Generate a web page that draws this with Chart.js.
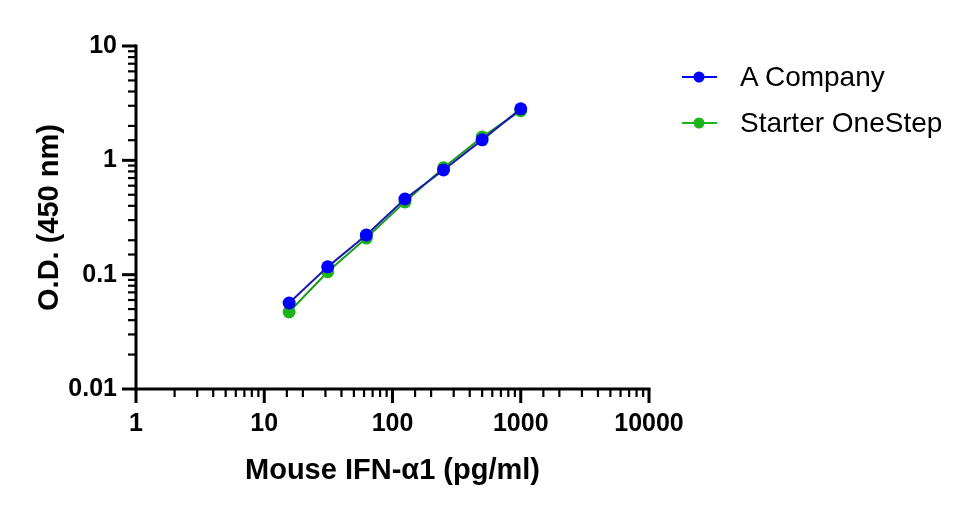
<!DOCTYPE html>
<html>
<head>
<meta charset="utf-8">
<script src="https://cdn.jsdelivr.net/npm/chart.js@4.4.1/dist/chart.umd.min.js"></script>
<style>
  html, body { margin: 0; padding: 0; background: #fff; }
  #wrap { position: relative; width: 969px; height: 507px; }
  #legend { position: absolute; left: 676px; top: 54px; font-family: "Liberation Sans", Arial, sans-serif; font-size: 28px; color: #000; }
  .row { display: flex; align-items: center; height: 46px; }
  .row svg { margin-right: 20px; }
</style>
</head>
<body>
<div id="wrap">
  <canvas id="c" width="969" height="507"></canvas>
  <div id="legend"></div>
</div>
<script>
// ---- data ----
const concentrations = [15.625, 31.25, 62.5, 125, 250, 500, 1000];
const seriesNames = ['A Company', 'Starter OneStep'];
const aCompany = [0.0565, 0.117, 0.222, 0.459, 0.824, 1.51, 2.82];
const starterOneStep = [0.0472, 0.106, 0.209, 0.433, 0.86, 1.60, 2.72];
const xTickLabels = ['1', '10', '100', '1000', '10000'];
const yTickLabels = ['0.01', '0.1', '1', '10'];
const xTitle = 'Mouse IFN-\u03b11 (pg/ml)';
const yTitle = 'O.D. (450 nm)';

const markerColors = ['#0000ff', '#1db31d'];
const lineColors = ['#1a1ab0', '#1a9e1a'];

const FONT = '"Liberation Sans", Arial, sans-serif';

function toPoints(xs, ys) { return xs.map((x, i) => ({ x: x, y: ys[i] })); }
function isDecade(v) { const l = Math.log10(v); return Math.abs(l - Math.round(l)) < 1e-6; }

const axesPlugin = {
  id: 'prismAxes',
  beforeDatasetsDraw(chart) {
    const ctx = chart.ctx;
    const xs = chart.scales.x, ys = chart.scales.y;
    const left = xs.getPixelForValue(xs.min);
    const right = xs.getPixelForValue(xs.max);
    const bottom = ys.getPixelForValue(ys.min);
    const top = ys.getPixelForValue(ys.max);
    ctx.save();
    ctx.strokeStyle = '#000';
    ctx.lineCap = 'butt';
    ctx.lineWidth = 3;
    ctx.beginPath();
    ctx.moveTo(left, top - 1.5); ctx.lineTo(left, bottom);
    ctx.moveTo(left, bottom); ctx.lineTo(right + 1.5, bottom);
    ctx.stroke();
    xs.ticks.forEach(t => {
      const p = xs.getPixelForValue(t.value);
      const major = isDecade(t.value);
      ctx.lineWidth = major ? 3 : 2.2;
      ctx.beginPath();
      ctx.moveTo(p, bottom);
      ctx.lineTo(p, bottom + (major ? 14 : 8));
      ctx.stroke();
    });
    ys.ticks.forEach(t => {
      const p = ys.getPixelForValue(t.value);
      const major = isDecade(t.value);
      ctx.lineWidth = major ? 3 : 2.2;
      ctx.beginPath();
      ctx.moveTo(left, p);
      ctx.lineTo(left - (major ? 14 : 8), p);
      ctx.stroke();
    });
    ctx.restore();
  }
};

const datasets = [aCompany, starterOneStep].map((vals, i) => ({
  label: seriesNames[i],
  data: toPoints(concentrations, vals),
  showLine: true,
  borderColor: lineColors[i],
  borderWidth: 2,
  pointBackgroundColor: markerColors[i],
  pointBorderColor: markerColors[i],
  pointBorderWidth: 0,
  pointRadius: 6.5,
  pointHoverRadius: 6.5,
  tension: 0
}));

const chart = new Chart(document.getElementById('c'), {
  type: 'scatter',
  data: { datasets: datasets },
  plugins: [axesPlugin],
  options: {
    responsive: false,
    animation: false,
    devicePixelRatio: 1,
    layout: { padding: { left: 0, top: 46, right: 320, bottom: 0 } },
    plugins: { legend: { display: false }, tooltip: { enabled: false } },
    scales: {
      x: {
        type: 'logarithmic',
        min: 1, max: 10000,
        grid: { display: false, drawTicks: false },
        border: { display: false },
        afterFit(scale) { scale.height = 118; },
        ticks: {
          autoSkip: false, maxRotation: 0, padding: 20, color: '#000',
          font: { family: FONT, size: 25, weight: 'bold' },
          callback(v) { return isDecade(v) ? xTickLabels[Math.round(Math.log10(v))] : ''; }
        },
        title: {
          display: true, text: xTitle, color: '#000',
          font: { family: FONT, size: 29, weight: 'bold' },
          padding: { top: 0, bottom: 19 }
        }
      },
      y: {
        type: 'logarithmic',
        min: 0.01, max: 10,
        grid: { display: false, drawTicks: false },
        border: { display: false },
        afterFit(scale) { scale.width = 136; },
        ticks: {
          autoSkip: false, padding: 19, color: '#000',
          font: { family: FONT, size: 25, weight: 'bold' },
          callback(v) { return isDecade(v) ? yTickLabels[Math.round(Math.log10(v)) + 2] : ''; }
        },
        title: {
          display: true, text: yTitle, color: '#000',
          font: { family: FONT, size: 29, weight: 'bold' },
          padding: { top: 33, bottom: 0 }
        }
      }
    }
  }
});

const legendEl = document.getElementById('legend');
chart.data.datasets.forEach(ds => {
  const row = document.createElement('div');
  row.className = 'row';
  const c = ds.pointBackgroundColor;
  row.innerHTML = '<svg width="44" height="14" viewBox="0 0 44 14">' +
    '<line x1="6" y1="7" x2="41" y2="7" stroke="' + c + '" stroke-width="2"/>' +
    '<circle cx="23" cy="7" r="5.5" fill="' + c + '"/></svg>';
  const span = document.createElement('span');
  span.textContent = ds.label;
  row.appendChild(span);
  legendEl.appendChild(row);
});
</script>
</body>
</html>
